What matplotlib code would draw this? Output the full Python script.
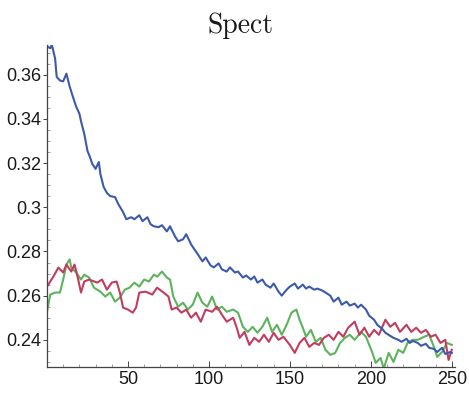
import numpy as np
import matplotlib
matplotlib.use("Agg")
import matplotlib.pyplot as plt
from matplotlib.ticker import MultipleLocator

# values
blue_x = [0, 2, 3, 5, 6, 8, 10, 12, 14, 16, 18, 20, 21, 23, 25, 26.5, 28, 30, 32, 33, 35, 37, 39, 42, 44, 47, 49,
          52, 54, 57, 59, 62, 64, 66, 69, 71, 74, 76, 79, 81, 84, 86, 89, 91, 94, 96, 98, 101, 103, 106, 108, 111,
          113, 116, 118, 121, 123, 126, 128, 130, 133, 135, 138, 140, 143, 145, 148, 150, 153, 155, 158, 160, 162,
          165, 167, 170, 172, 175, 177, 180, 182, 185, 187, 190, 192, 194, 197, 199, 202, 204, 207, 209, 212, 214,
          217, 219, 222, 224, 226, 229, 231, 234, 236, 239, 241, 244, 246, 249, 250]
blue_y = [0.3729, 0.372, 0.3735, 0.3674, 0.359, 0.3574, 0.357, 0.3605, 0.3547, 0.350, 0.3456, 0.3424, 0.339,
          0.3333, 0.3255, 0.3228, 0.3196, 0.3174, 0.3205, 0.315, 0.3092, 0.3065, 0.3051, 0.3046, 0.3015, 0.2978,
          0.2946, 0.2955, 0.2946, 0.2964, 0.2937, 0.2955, 0.2923, 0.2914, 0.291, 0.2919, 0.2891, 0.2914, 0.2869,
          0.2846, 0.2855, 0.2878, 0.2832, 0.281, 0.2778, 0.2755, 0.2773, 0.2737, 0.2728, 0.2746, 0.2719, 0.2709,
          0.2728, 0.2705, 0.2709, 0.2682, 0.2691, 0.2673, 0.2687, 0.2659, 0.2673, 0.265, 0.2636, 0.2655, 0.2618,
          0.260, 0.2627, 0.2641, 0.2655, 0.2632, 0.265, 0.2632, 0.2641, 0.2627, 0.2632, 0.2623, 0.2614, 0.260,
          0.2573, 0.2591, 0.2559, 0.2573, 0.2555, 0.2564, 0.2546, 0.2559, 0.2537, 0.2509, 0.2491, 0.2468, 0.245,
          0.2432, 0.2418, 0.2409, 0.240, 0.2391, 0.2405, 0.2386, 0.2395, 0.2386, 0.2373, 0.2382, 0.2364, 0.2359,
          0.2345, 0.2364, 0.2336, 0.2345, 0.2341]

red_x = [0, 4, 7, 10, 12, 15, 17, 19, 21, 23, 26, 31, 34, 37, 40, 43, 45, 47, 50, 53, 55, 57, 61, 65, 68, 72,
         75, 77, 80, 83, 86, 89, 92, 95, 98, 102, 105, 108, 111, 115, 117, 119, 122, 125, 128, 131, 134, 137, 140,
         143, 146, 150, 153, 156, 159, 162, 165, 168, 171, 174, 177, 180, 183, 186, 190, 193, 196, 199, 202, 205,
         209, 212, 215, 218, 222, 225, 228, 231, 234, 237, 240, 243, 246, 248, 250]
red_y = [0.2641, 0.2687, 0.2727, 0.2705, 0.2741, 0.2709, 0.2741, 0.2682, 0.2614, 0.2664, 0.2673, 0.2659, 0.2673,
         0.2627, 0.2659, 0.2664, 0.2614, 0.2546, 0.2537, 0.2523, 0.2546, 0.2614, 0.2618, 0.2605, 0.2636, 0.2614,
         0.2596, 0.2537, 0.2546, 0.2523, 0.2537, 0.250, 0.2523, 0.2482, 0.2537, 0.2527, 0.255, 0.2514, 0.2482,
         0.250, 0.2459, 0.2409, 0.2436, 0.2377, 0.2409, 0.2391, 0.2423, 0.2391, 0.2432, 0.240, 0.2414, 0.2377,
         0.2341, 0.2386, 0.2409, 0.2368, 0.2386, 0.2377, 0.2409, 0.2423, 0.240, 0.2436, 0.2414, 0.2455, 0.2482,
         0.2423, 0.2455, 0.2414, 0.2445, 0.2423, 0.2491, 0.2459, 0.2477, 0.2436, 0.2468, 0.2436, 0.2455, 0.2432,
         0.2445, 0.2414, 0.2423, 0.2386, 0.240, 0.2309, 0.2355]

green_x = [0, 2, 5, 8, 10, 12, 14, 15, 18, 21, 23, 26, 29, 33, 36, 39, 42, 45, 48, 51, 54, 57, 60, 63, 66, 68,
           71, 74, 76, 78, 81, 84, 87, 90, 93, 96, 99, 102, 105, 108, 111, 115, 118, 121, 124, 127, 130, 133, 136,
           139, 142, 145, 148, 151, 154, 156, 158, 160, 163, 166, 169, 172, 175, 178, 181, 184, 187, 190, 194, 197,
           199, 201, 203, 206, 208, 211, 214, 217, 220, 223, 226, 229, 233, 236, 239, 241, 244, 247, 250]
green_y = [0.2527, 0.2605, 0.2614, 0.2614, 0.2673, 0.2741, 0.2764, 0.2727, 0.2705, 0.2673, 0.2695, 0.2682,
           0.2636, 0.2618, 0.2596, 0.2614, 0.2573, 0.2591, 0.2627, 0.2636, 0.2659, 0.2641, 0.2673, 0.2664, 0.2695,
           0.2686, 0.2709, 0.2682, 0.2673, 0.2596, 0.255, 0.2568, 0.2537, 0.2559, 0.2614, 0.2568, 0.255, 0.2596,
           0.2537, 0.255, 0.2527, 0.2537, 0.2523, 0.2459, 0.2436, 0.2459, 0.2432, 0.2459, 0.250, 0.2436, 0.2468,
           0.2423, 0.2468, 0.2523, 0.2537, 0.2491, 0.2455, 0.2414, 0.2445, 0.2391, 0.2409, 0.2355, 0.2332, 0.2341,
           0.2386, 0.2409, 0.2423, 0.240, 0.2436, 0.2414, 0.2377, 0.2341, 0.2296, 0.2318, 0.2270, 0.2341, 0.230,
           0.2355, 0.2341, 0.2391, 0.240, 0.240, 0.2414, 0.2423, 0.2368, 0.2323, 0.2345, 0.2386, 0.2377]

xticks = [50, 100, 150, 200, 250]
yticks = [0.24, 0.26, 0.28, 0.3, 0.32, 0.34, 0.36]
ytick_labels = ["0.24", "0.26", "0.28", "0.3", "0.32", "0.34", "0.36"]

fig = plt.figure(figsize=(4.69, 3.94), dpi=100)
ax = fig.add_axes([0.1002, 0.0685, 0.8700, 0.8175])

ax.plot(green_x, green_y, color="#5cb35c", lw=1.5)
ax.plot(red_x, red_y, color="#c23c5e", lw=1.5)
ax.plot(blue_x, blue_y, color="#3b5aab", lw=1.5)

ax.set_xlim(0, 252)
ax.set_ylim(0.2277, 0.3735)
ax.set_xticks(xticks)
ax.set_yticks(yticks)
ax.set_yticklabels(ytick_labels)
ax.xaxis.set_minor_locator(MultipleLocator(10))
ax.yaxis.set_minor_locator(MultipleLocator(0.005))

for s in ["top", "right"]:
    ax.spines[s].set_visible(False)
for s in ["left", "bottom"]:
    ax.spines[s].set_color("#444444")
    ax.spines[s].set_linewidth(0.9)

ax.tick_params(axis="x", which="major", direction="in", length=4, color="#444444", width=0.7,
               labelsize=13, pad=3)
ax.tick_params(axis="y", which="major", direction="out", length=3, color="#444444", width=0.7,
               labelsize=13, pad=1)
ax.tick_params(which="minor", direction="in", length=2, color="#777777", width=0.5)
for lab in ax.get_xticklabels() + ax.get_yticklabels():
    lab.set_family("Liberation Sans")
    lab.set_color("#1a1a1a")

fig.text(0.512, 0.935, "Spect", ha="center", va="center", fontsize=20, family="cmr10", color="#1a1a1a")

fig.savefig("out.png", dpi=100)
